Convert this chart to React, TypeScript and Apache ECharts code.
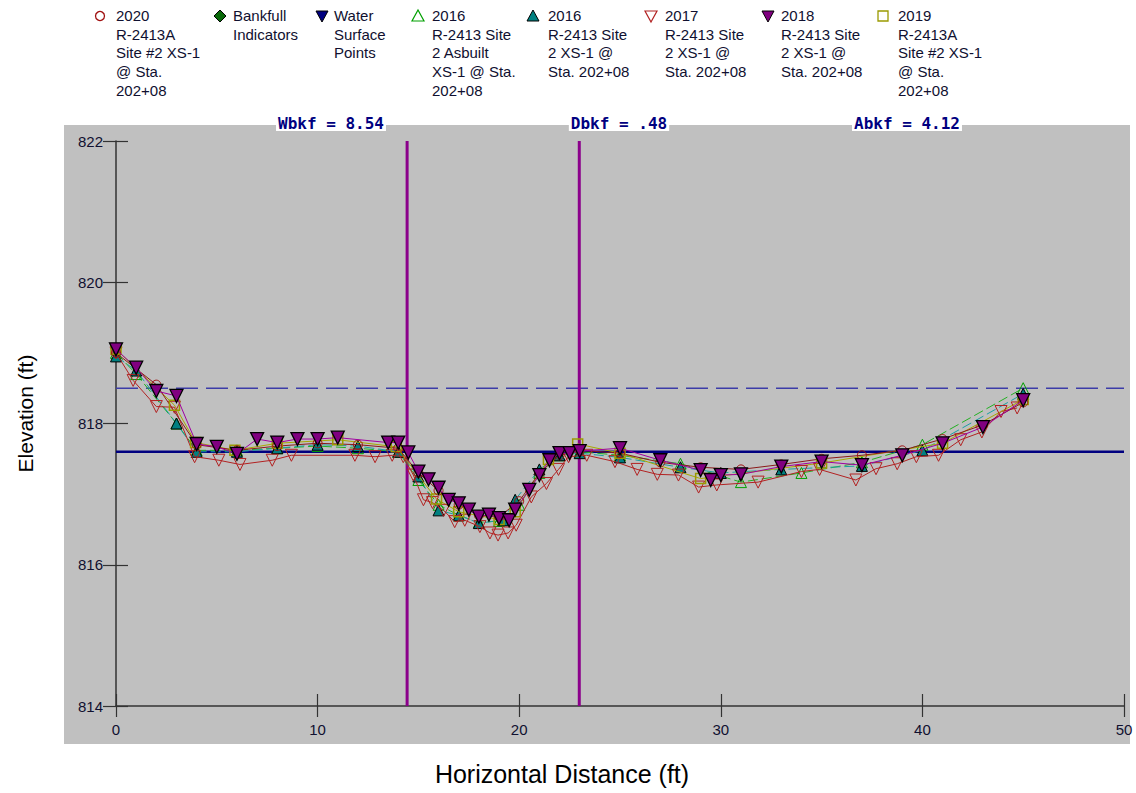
import React, { useEffect, useRef } from "react";
import * as echarts from "echarts";

// ---------- DATA ----------
const xTickValues = [0, 10, 20, 30, 40, 50];
const yTickValues = [814, 816, 818, 820, 822];

const x2016Asbuilt = [0, 1, 3, 4, 6, 8, 10, 12, 14, 15, 16, 17, 18, 19, 20, 21, 22, 23, 25, 28, 31, 34, 37, 40, 45];
const y2016Asbuilt = [819.0, 818.7, 818.0, 817.62, 817.62, 817.65, 817.68, 817.65, 817.6, 817.2, 816.85, 816.7, 816.6, 816.62, 816.85, 817.3, 817.55, 817.6, 817.55, 817.43, 817.17, 817.3, 817.45, 817.7, 818.5];

const x2016 = [0, 1, 3, 4, 6, 8, 10, 12, 14, 15, 16, 17, 18, 19.2, 19.8, 21, 22, 23, 25, 28, 30, 33, 37, 40, 45];
const y2016 = [818.95, 818.75, 818.0, 817.6, 817.6, 817.65, 817.7, 817.68, 817.6, 817.25, 816.77, 816.7, 816.59, 816.63, 816.92, 817.35, 817.55, 817.58, 817.52, 817.38, 817.3, 817.35, 817.4, 817.62, 818.42];

const x2017 = [0, 0.85, 2, 2.9, 3.9, 5.1, 6.15, 7.75, 8.7, 11.85, 12.85, 13.7, 14.25, 14.75, 15.25, 15.7, 16.25, 16.8, 17.3, 18.05, 18.55, 18.95, 19.45, 19.85, 20.6, 21.35, 21.95, 22.45, 23.35, 24.75, 25.85, 26.85, 27.9, 28.9, 29.8, 31.85, 34, 34.9, 36.7, 37.7, 38.75, 39.7, 40.8, 41.9, 42.95, 43.9, 44.7];
const y2017 = [819.0, 818.61, 818.24, 818.23, 817.53, 817.48, 817.42, 817.48, 817.55, 817.55, 817.53, 817.55, 817.53, 817.27, 816.92, 816.88, 816.77, 816.61, 816.63, 816.54, 816.45, 816.42, 816.45, 816.56, 816.96, 817.15, 817.35, 817.53, 817.55, 817.46, 817.35, 817.28, 817.27, 817.1, 817.13, 817.17, 817.32, 817.35, 817.2, 817.36, 817.43, 817.53, 817.55, 817.77, 817.88, 818.17, 818.22];

const x2019 = [0, 2.9, 3.95, 5.9, 8, 11, 13.9, 15.9, 17, 19, 19.8, 21.45, 22.9, 25, 29, 35, 41, 45];
const y2019 = [819.05, 818.26, 817.73, 817.62, 817.72, 817.77, 817.67, 816.93, 816.75, 816.64, 816.75, 817.49, 817.71, 817.58, 817.22, 817.44, 817.72, 818.34];

const x2020 = [0, 2, 4, 6, 8, 10, 12, 14, 15, 16, 17, 18, 19, 20, 21, 22, 23, 25, 27, 29, 31, 33, 35, 37, 39, 41, 43, 45];
const y2020 = [819.0, 818.55, 817.7, 817.62, 817.68, 817.72, 817.7, 817.65, 817.3, 817.05, 816.85, 816.7, 816.68, 816.9, 817.3, 817.55, 817.62, 817.58, 817.45, 817.38, 817.35, 817.42, 817.5, 817.55, 817.62, 817.78, 817.98, 818.3];

const x2018 = [0, 1, 2, 3, 4, 5, 6, 7, 8, 9, 10, 11, 13.5, 14, 14.5, 15, 15.5, 16, 16.5, 17, 17.5, 18, 18.5, 19, 19.5, 19.8, 20.5, 21, 21.5, 22, 22.5, 23, 25, 27, 29, 29.5, 30, 31, 33, 35, 37, 39, 41, 43, 45];
const y2018 = [819.05, 818.79, 818.46, 818.39, 817.71, 817.67, 817.57, 817.78, 817.73, 817.78, 817.78, 817.8, 817.73, 817.73, 817.59, 817.32, 817.21, 817.09, 816.92, 816.87, 816.78, 816.68, 816.71, 816.66, 816.63, 816.78, 817.06, 817.27, 817.48, 817.58, 817.58, 817.61, 817.65, 817.48, 817.34, 817.2, 817.27, 817.28, 817.39, 817.46, 817.41, 817.55, 817.72, 817.95, 818.33];

const bankfullStations = [14.44, 22.98];
const waterSurfaceElev = 817.6;
const bankfullElev = 818.5;
const xRange = [0, 50];
const yRange = [814, 822];

const statLabels = ["Wbkf = 8.54", "Dbkf = .48", "Abkf = 4.12"];
const xAxisTitle = "Horizontal Distance (ft)";
const yAxisTitle = "Elevation (ft)";

const legendLabels = [
  "2020\nR-2413A\nSite #2 XS-1\n@ Sta.\n202+08",
  "Bankfull\nIndicators",
  "Water\nSurface\nPoints",
  "2016\nR-2413 Site\n2 Asbuilt\nXS-1 @ Sta.\n202+08",
  "2016\nR-2413 Site\n2 XS-1 @\nSta. 202+08",
  "2017\nR-2413 Site\n2 XS-1 @\nSta. 202+08",
  "2018\nR-2413 Site\n2 XS-1 @\nSta. 202+08",
  "2019\nR-2413A\nSite #2 XS-1\n@ Sta.\n202+08",
];

// ---------- helpers ----------
const zip = (xs: number[], ys: number[]) => xs.map((x, i) => [x, ys[i]]);
const FONT = "'Liberation Sans', Arial, sans-serif";
const TXT = "#101030";

function legendSymbol(kind: string, cx: number, cy: number): any {
  const s = 6;
  switch (kind) {
    case "circle":
      return { type: "circle", shape: { cx, cy, r: 4.5 }, style: { fill: "none", stroke: "#a01010", lineWidth: 1.3 } };
    case "diamond":
      return { type: "polygon", shape: { points: [[cx, cy - s], [cx + s, cy], [cx, cy + s], [cx - s, cy]] }, style: { fill: "#0a6a0a", stroke: "#000", lineWidth: 1 } };
    case "downNavy":
      return { type: "polygon", shape: { points: [[cx - s, cy - 5], [cx + s, cy - 5], [cx, cy + 6]] }, style: { fill: "#000080", stroke: "#000", lineWidth: 1 } };
    case "upGreen":
      return { type: "polygon", shape: { points: [[cx - s, cy + 5], [cx + s, cy + 5], [cx, cy - 6]] }, style: { fill: "none", stroke: "#00a000", lineWidth: 1.2 } };
    case "upTeal":
      return { type: "polygon", shape: { points: [[cx - s, cy + 5], [cx + s, cy + 5], [cx, cy - 6]] }, style: { fill: "#008080", stroke: "#000", lineWidth: 1 } };
    case "downRed":
      return { type: "polygon", shape: { points: [[cx - s, cy - 5], [cx + s, cy - 5], [cx, cy + 6]] }, style: { fill: "none", stroke: "#b22222", lineWidth: 1.2 } };
    case "downPurple":
      return { type: "polygon", shape: { points: [[cx - s, cy - 5], [cx + s, cy - 5], [cx, cy + 6]] }, style: { fill: "#800080", stroke: "#000", lineWidth: 1 } };
    default:
      return { type: "rect", shape: { x: cx - 5, y: cy - 5, width: 10, height: 10 }, style: { fill: "none", stroke: "#9a9a00", lineWidth: 1.3 } };
  }
}

const legendKinds = ["circle", "diamond", "downNavy", "upGreen", "upTeal", "downRed", "downPurple", "square"];
const legendSymX = [100, 220, 322, 418, 533, 651, 768, 883];
const legendTextX = [116, 233, 334, 432, 548, 665, 781, 898];
const statX = [331, 619, 907];

export default function App() {
  const ref = useRef<HTMLDivElement>(null);
  useEffect(() => {
    if (!ref.current) return;
    const chart = echarts.init(ref.current, undefined, { renderer: "svg" });

    const graphics: any[] = [
      { type: "rect", z: -100, shape: { x: 64, y: 125, width: 1066, height: 619 }, style: { fill: "#c0c0c0" } },
      {
        type: "text",
        x: 562,
        y: 774,
        style: { text: xAxisTitle, font: `25px ${FONT}`, fill: "#000", align: "center", verticalAlign: "middle" },
      },
    ];
    legendLabels.forEach((t, i) => {
      graphics.push(legendSymbol(legendKinds[i], legendSymX[i], 16));
      graphics.push({
        type: "text",
        x: legendTextX[i],
        y: 6,
        style: { text: t, font: `15px ${FONT}`, fill: TXT, lineHeight: 18.7, align: "left", verticalAlign: "top" },
      });
    });
    statLabels.forEach((t, i) => {
      graphics.push({
        type: "text",
        x: statX[i],
        y: 123,
        z: 50,
        style: {
          text: t,
          font: `bold 16px 'DejaVu Sans Mono', 'Liberation Mono', monospace`,
          fill: "#000080",
          align: "center",
          verticalAlign: "middle",
          backgroundColor: "#ffffff",
          padding: [0, 2, 0, 2],
        },
      });
    });

    const markerSeries = (name: string, data: number[][], opts: any) => ({
      name,
      type: "line",
      data,
      xAxisIndex: 0,
      yAxisIndex: 0,
      showSymbol: true,
      symbol: opts.symbol,
      symbolSize: opts.size,
      symbolRotate: opts.rotate || 0,
      lineStyle: { color: opts.line, width: 1, type: opts.dash || "solid" },
      itemStyle: { color: opts.fill, borderColor: opts.border, borderWidth: opts.bw || 1 },
      z: opts.z,
      silent: true,
    });

    const option: any = {
      animation: false,
      grid: { left: 116, right: 12, top: 141, bottom: 87 },
      graphic: graphics,
      xAxis: [
        {
          type: "value",
          min: xRange[0],
          max: xRange[1],
          interval: 10,
          position: "bottom",
          axisLine: { show: true, lineStyle: { color: "#333", width: 1.5 } },
          axisTick: { show: true, inside: true, length: 12, lineStyle: { color: "#333", width: 1.2 } },
          axisLabel: { color: TXT, fontFamily: FONT, fontSize: 15, margin: 16, formatter: (v: number) => (xTickValues.includes(v) ? String(v) : "") },
          splitLine: { show: false },
        },
        {
          type: "value",
          min: xRange[0],
          max: xRange[1],
          interval: 10,
          position: "bottom",
          axisLine: { show: false },
          axisTick: { show: true, inside: false, length: 11, lineStyle: { color: "#333", width: 1.2 } },
          axisLabel: { show: false },
          splitLine: { show: false },
        },
      ],
      yAxis: [
        {
          type: "value",
          min: yRange[0],
          max: yRange[1],
          interval: 2,
          position: "left",
          axisLine: { show: true, lineStyle: { color: "#333", width: 1.5 } },
          axisTick: { show: true, inside: true, length: 12, lineStyle: { color: "#333", width: 1.2 } },
          axisLabel: { color: TXT, fontFamily: FONT, fontSize: 15, margin: 13, formatter: (v: number) => (yTickValues.includes(v) ? String(v) : "") },
          splitLine: { show: false },
          name: yAxisTitle,
          nameLocation: "middle",
          nameRotate: 90,
          nameGap: 80,
          nameTextStyle: { color: "#000", fontFamily: FONT, fontSize: 21, padding: [0, 0, 0, 20] },
        },
        {
          type: "value",
          min: yRange[0],
          max: yRange[1],
          interval: 2,
          position: "left",
          axisLine: { show: false },
          axisTick: { show: true, inside: false, length: 13, lineStyle: { color: "#333", width: 1.2 } },
          axisLabel: { show: false },
          splitLine: { show: false },
        },
      ],
      series: [
        {
          name: "bankfull-elev",
          type: "line",
          data: [[xRange[0], bankfullElev], [xRange[1], bankfullElev]],
          showSymbol: false,
          lineStyle: { color: "#3c3ca8", width: 1.6, type: [22, 8] },
          z: 1,
          silent: true,
        },
        {
          name: "water-surface",
          type: "line",
          data: [[xRange[0], waterSurfaceElev], [xRange[1], waterSurfaceElev]],
          showSymbol: false,
          lineStyle: { color: "#000080", width: 2.5 },
          z: 1,
          silent: true,
        },
        ...bankfullStations.map((s, i) => ({
          name: "bankfull-station-" + i,
          type: "line",
          data: [[s, yRange[0]], [s, yRange[1]]],
          showSymbol: false,
          lineStyle: { color: "#8b008b", width: 3 },
          z: 1,
          silent: true,
        })),
        markerSeries("2016 Asbuilt", zip(x2016Asbuilt, y2016Asbuilt), { symbol: "triangle", size: 11, line: "#22b022", fill: "rgba(0,0,0,0)", border: "#00a000", dash: [10, 4], z: 3 }),
        markerSeries("2016", zip(x2016, y2016), { symbol: "triangle", size: 11, line: "#1aa0a0", fill: "#008080", border: "#000", dash: [10, 4], z: 3 }),
        markerSeries("2017", zip(x2017, y2017), { symbol: "triangle", rotate: 180, size: 12, line: "#b22222", fill: "rgba(0,0,0,0)", border: "#b22222", z: 4 }),
        markerSeries("2019", zip(x2019, y2019), { symbol: "rect", size: 10, line: "#a8a800", fill: "rgba(0,0,0,0)", border: "#9a9a00", bw: 1.5, z: 4 }),
        markerSeries("2020", zip(x2020, y2020), { symbol: "circle", size: 9, line: "#8b1a1a", fill: "rgba(0,0,0,0)", border: "#a01010", z: 4 }),
        markerSeries("2018", zip(x2018, y2018), { symbol: "triangle", rotate: 180, size: 13, line: "#a000a0", fill: "#800080", border: "#000", bw: 1.3, z: 5 }),
      ],
    };
    chart.setOption(option);
    return () => chart.dispose();
  }, []);

  return <div ref={ref} style={{ position: "absolute", left: 0, top: 0, width: 1136, height: 793 }} />;
}
